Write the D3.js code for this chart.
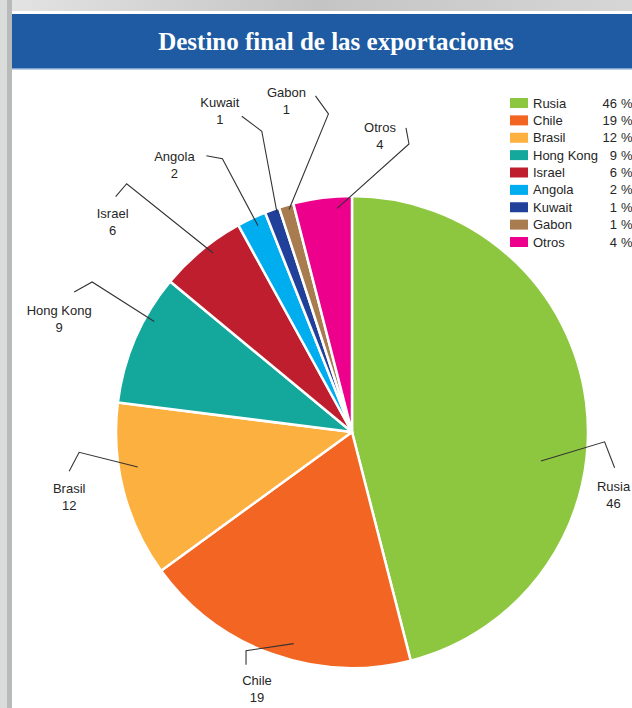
<!DOCTYPE html>
<meta charset="utf-8">
<style>
body { margin: 0; background: #fff; }
svg { display: block; }
.lbl { font: 13px "Liberation Sans", Arial, sans-serif; fill: #262626; }
.leg { font: 13px "Liberation Sans", Arial, sans-serif; fill: #262626; }
.title { font: bold 25px "Liberation Serif", serif; fill: #fff; }
</style>
<body>
<script src="https://cdnjs.cloudflare.com/ajax/libs/d3/7.8.5/d3.min.js"></script>
<script>
// Destino final de las exportaciones (%)
var names  = ["Rusia", "Chile", "Brasil", "Hong Kong", "Israel", "Angola", "Kuwait", "Gabon", "Otros"];
var shares = [46, 19, 12, 9, 6, 2, 1, 1, 4];
var colors = ["#8dc63f", "#f26522", "#fbb040", "#14a89d", "#be1e2d", "#00aeef", "#21409a", "#a97c50", "#ec008c"];

// label placement, relative to each slice middle: [turn deg, reach x radius]
var labelPos  = [[20.7, 1.14], [0.5, 1.16], [1.4, 1.23], [-2.3, 1.33], [-9.1, 1.35], [-8.4, 1.36], [-2.6, 1.47], [5.0, 1.43], [12.6, 1.26]];
// where the leader starts inside the slice
var innerPos  = [[15.9, 0.81], [-4.4, 0.93], [5.1, 0.92], [5.8, 0.96], [1.8, 0.96], [0.7, 0.96], [0.9, 0.98], [0.4, 0.98], [3.4, 0.95]];
// leader end (next to the label) and its short kink
var endOff  = [[1, -27], [-11, -24], [0, -26], [15, -27], [3, -25], [32, -9], [22, 5], [29, -5], [26, -8]];
var kinkOff = [[-10, -26], [0, -14], [10, -19], [18, -10], [11, -13], [16, 3], [20, 15], [13, 18], [3, 16]];

var width = 632, height = 708;
var cx = 352, cy = 432, radius = 236;
var rad = Math.PI / 180;

var svg = d3.select("body").append("svg")
    .attr("width", width)
    .attr("height", height);

// frame: grey page edge, blue header band, white panel
var edge = svg.append("defs").append("linearGradient")
    .attr("id", "edge").attr("x1", 0).attr("x2", 1);
edge.append("stop").attr("offset", "0%").attr("stop-color", "#e4e4e4");
edge.append("stop").attr("offset", "50%").attr("stop-color", "#c4c4c4");
edge.append("stop").attr("offset", "100%").attr("stop-color", "#d6d6d6");

svg.append("rect").attr("width", width).attr("height", 12).attr("fill", "url(#edge)");
svg.append("rect").attr("width", 7).attr("height", height).attr("fill", "#dadcdc");
svg.append("rect").attr("x", 7).attr("width", 5).attr("height", height).attr("fill", "#b9baba");
svg.append("rect").attr("x", 12).attr("y", 11).attr("width", width - 12).attr("height", 3).attr("fill", "#fff");
svg.append("rect").attr("x", 12).attr("y", 14).attr("width", width - 12).attr("height", 54).attr("fill", "#1e5ba2");
svg.append("rect").attr("x", 12).attr("y", 68).attr("width", width - 12).attr("height", 1.5).attr("fill", "#7fa3cf");

svg.append("text")
    .attr("class", "title")
    .attr("x", 336)
    .attr("y", 50)
    .attr("text-anchor", "middle")
    .text("Destino final de las exportaciones");

// pie
var pie = d3.pie().sort(null).value(function(d) { return d; });
var arcs = pie(shares);
var arc = d3.arc().innerRadius(0).outerRadius(radius);

var g = svg.append("g")
    .attr("transform", "translate(" + cx + "," + cy + ")");

g.selectAll("path.slice")
    .data(arcs)
  .enter().append("path")
    .attr("class", "slice")
    .attr("d", arc)
    .attr("fill", function(d, i) { return colors[i]; })
    .attr("stroke", "#fff")
    .attr("stroke-width", 2.5)
    .attr("stroke-linejoin", "round");

function mid(d) { return (d.startAngle + d.endAngle) / 2; }
function polar(d, p) { return d3.pointRadial(mid(d) + p[0] * rad, radius * p[1]); }

// leader lines
var line = d3.line();
g.selectAll("path.leader")
    .data(arcs)
  .enter().append("path")
    .attr("class", "leader")
    .attr("fill", "none")
    .attr("stroke", "#333")
    .attr("stroke-width", 1.1)
    .attr("d", function(d, i) {
      var L = polar(d, labelPos[i]);
      var end = [L[0] + endOff[i][0], L[1] + endOff[i][1]];
      var kink = [end[0] + kinkOff[i][0], end[1] + kinkOff[i][1]];
      return line([polar(d, innerPos[i]), kink, end]);
    });

// slice labels
var lbl = g.selectAll("g.lbl")
    .data(arcs)
  .enter().append("g")
    .attr("transform", function(d, i) { return "translate(" + polar(d, labelPos[i]) + ")"; });

lbl.append("text")
    .attr("class", "lbl")
    .attr("text-anchor", "middle")
    .attr("y", -4)
    .text(function(d, i) { return names[i]; });

lbl.append("text")
    .attr("class", "lbl")
    .attr("text-anchor", "middle")
    .attr("y", 13)
    .text(function(d) { return d.data; });

// legend
var row = d3.scalePoint().domain(names).range([103, 242]);
var leg = svg.append("g").selectAll("g")
    .data(names)
  .enter().append("g")
    .attr("transform", function(d) { return "translate(0," + row(d) + ")"; });

leg.append("rect")
    .attr("x", 510).attr("y", -5)
    .attr("width", 18).attr("height", 10)
    .attr("fill", function(d, i) { return colors[i]; });

leg.append("text")
    .attr("class", "leg")
    .attr("x", 533).attr("y", 4.5)
    .text(function(d) { return d; });

leg.append("text")
    .attr("class", "leg")
    .attr("x", 617).attr("y", 4.5)
    .attr("text-anchor", "end")
    .text(function(d, i) { return shares[i]; });

leg.append("text")
    .attr("class", "leg")
    .attr("x", 621).attr("y", 4.5)
    .text("%");
</script>
